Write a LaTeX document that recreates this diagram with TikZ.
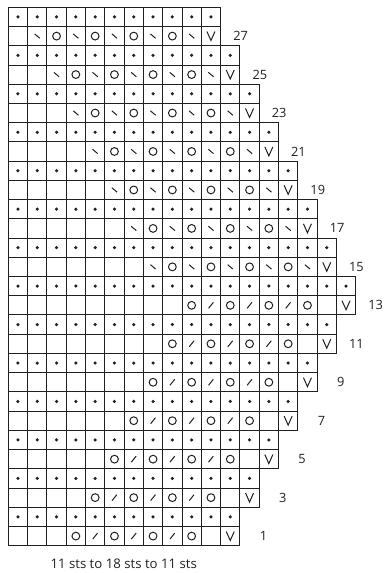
\documentclass[tikz,border=0pt]{standalone}
\usepackage{fontspec}
\setmainfont{Open Sans}
\definecolor{ink}{HTML}{231F20}
\begin{document}
\begin{tikzpicture}[x=1pt,y=-1pt,
  gridline/.style={draw=ink,line width=0.9pt},
  sym/.style={draw=ink,line width=1pt},
  rowlab/.style={anchor=east,inner sep=0pt,font=\fontsize{12.8}{15}\selectfont,text=ink},
  caplab/.style={inner sep=0pt,font=\fontsize{13.2}{16}\selectfont,text=ink},
  dotsym/.pic={\fill[ink] (0,0) circle[radius=1.75];},
  yosym/.pic={\draw[sym] (0,0) circle[radius=3.9];},
  kssym/.pic={\draw[sym] (-2.4,3) -- (2.4,-3);},
  sskssym/.pic={\draw[sym] (-2.6,-2.2) -- (2.6,2.2);},
  incsym/.pic={\draw[sym,line join=miter] (-4,-4.6) -- (0,4.4) -- (4,-4.6);}
]
\useasboundingbox (0,0) rectangle (384,573);
% grid
\foreach \r/\n in {1/12,2/12,3/13,4/13,5/14,6/14,7/15,8/15,9/16,10/16,11/17,12/17,13/18,14/18,15/17,16/17,17/16,18/16,19/15,20/15,21/14,22/14,23/13,24/13,25/12,26/12,27/11,28/11}{
  \foreach \c in {1,...,\n}{
    \draw[gridline] ({8.3+(\c-1)*19.3},{545.7-\r*19.23}) rectangle ({8.3+\c*19.3},{545.7-(\r-1)*19.23});
  }
}
% purl rows
\foreach \r/\n in {2/12,4/13,6/14,8/15,10/16,12/17,14/18,16/17,18/16,20/15,22/14,24/13,26/12,28/11}{
  \foreach \c in {1,...,\n}{
    \pic at ({8.3+(\c-0.5)*19.3},{545.7-(\r-0.5)*19.23}) {dotsym};
  }
}
% lower lace rows (increasing)
\foreach \r/\n in {1/12,3/13,5/14,7/15,9/16,11/17,13/18}{
  \foreach \k in {9,7,5,3}{
    \pic at ({8.3+(\n-\k+0.5)*19.3},{545.7-(\r-0.5)*19.23}) {yosym};
  }
  \foreach \k in {8,6,4}{
    \pic at ({8.3+(\n-\k+0.5)*19.3},{545.7-(\r-0.5)*19.23}) {kssym};
  }
  \pic at ({8.3+(\n-0.5)*19.3},{545.7-(\r-0.5)*19.23}) {incsym};
  \node[rowlab] (lab\r) at ({8.3+\n*19.3+27.5},{545.7-(\r-0.5)*19.23}) {\r};
}
% upper lace rows (decreasing)
\foreach \r/\n in {15/17,17/16,19/15,21/14,23/13,25/12,27/11}{
  \foreach \k in {9,7,5,3}{
    \pic at ({8.3+(\n-\k+0.5)*19.3},{545.7-(\r-0.5)*19.23}) {yosym};
  }
  \foreach \k in {10,8,6,4,2}{
    \pic at ({8.3+(\n-\k+0.5)*19.3},{545.7-(\r-0.5)*19.23}) {sskssym};
  }
  \pic at ({8.3+(\n-0.5)*19.3},{545.7-(\r-0.5)*19.23}) {incsym};
  \node[rowlab] (lab\r) at ({8.3+\n*19.3+27.5},{545.7-(\r-0.5)*19.23}) {\r};
}
\node[caplab] (caption) at (123.7,564) {11 sts to 18 sts to 11 sts};
\end{tikzpicture}
\end{document}
